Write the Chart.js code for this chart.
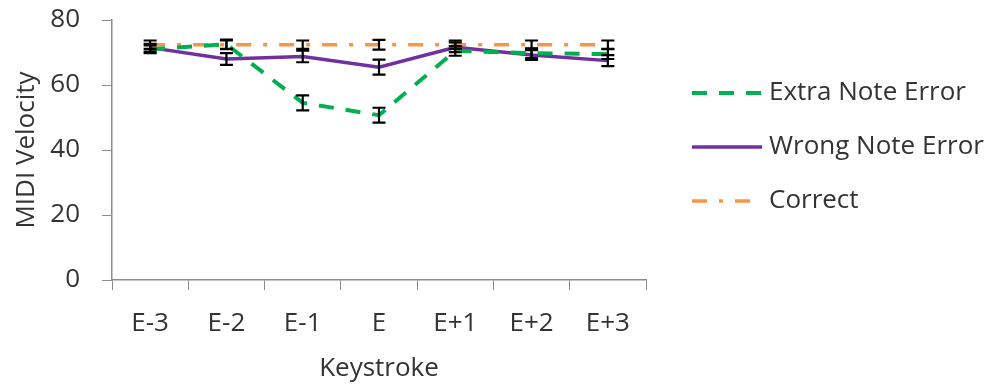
<!DOCTYPE html>
<html lang="en">
<head>
<meta charset="UTF-8">
<title>MIDI Velocity by Keystroke</title>
<script src="https://cdn.jsdelivr.net/npm/chart.js"></script>
<style>
  html, body { margin: 0; padding: 0; background: #fff; }
</style>
</head>
<body>
<canvas id="velocityChart" width="1004" height="387"></canvas>
<script>
// values
const keystrokes = ['E-3', 'E-2', 'E-1', 'E', 'E+1', 'E+2', 'E+3'];
const extraNote = [71, 72.5, 54.5, 50.7, 70.5, 69.8, 69.5];
const extraNoteErr = [1.2, 1.5, 2.3, 2.3, 1.5, 1.5, 1.5];
const wrongNote = [71.5, 68, 68.8, 65.5, 71.6, 69.2, 67.5];
const wrongNoteErr = [1.2, 1.8, 1.8, 2.3, 1.5, 1.5, 1.7];
const correct = [72.4, 72.4, 72.4, 72.4, 72.4, 72.4, 72.4];
const correctErr = [1.3, 1.3, 1.3, 1.5, 1.3, 1.3, 1.3];
const yTicks = [0, 20, 40, 60, 80];

const textColor = '#333333';
const axisColor = '#8c8c8c';

Chart.defaults.font.family = "'Open Sans', sans-serif";
Chart.defaults.font.size = 26;
Chart.defaults.color = textColor;

// error bars drawn through the chart's own scales
const errorBars = {
    id: 'errorBars',
    afterDatasetsDraw(chart) {
        const ctx = chart.ctx;
        const x = chart.scales.x;
        const y = chart.scales.y;
        ctx.save();
        ctx.strokeStyle = '#000';
        ctx.lineWidth = 2.2;
        chart.data.datasets.forEach(ds => {
            ds.data.forEach((v, i) => {
                const px = x.getPixelForValue(i);
                const top = y.getPixelForValue(v + ds.errors[i]);
                const bot = y.getPixelForValue(v - ds.errors[i]);
                ctx.beginPath();
                ctx.moveTo(px, top); ctx.lineTo(px, bot);
                ctx.moveTo(px - 6.5, top); ctx.lineTo(px + 6.5, top);
                ctx.moveTo(px - 6.5, bot); ctx.lineTo(px + 6.5, bot);
                ctx.stroke();
            });
        });
        ctx.restore();
    }
};

// legend on the right, drawn in the space kept free by layout padding
const sideLegend = {
    id: 'sideLegend',
    afterDraw(chart) {
        const ctx = chart.ctx;
        const x0 = chart.chartArea.right + 46;
        ctx.save();
        ctx.font = "26px 'Open Sans', sans-serif";
        ctx.textBaseline = 'middle';
        ctx.fillStyle = textColor;
        chart.data.datasets.forEach((ds, i) => {
            const y = 93 + i * 54;
            ctx.beginPath();
            ctx.strokeStyle = ds.borderColor;
            ctx.lineWidth = ds.borderWidth;
            ctx.setLineDash(ds.borderDash || []);
            ctx.moveTo(x0, y);
            ctx.lineTo(x0 + 70, y);
            ctx.stroke();
            ctx.fillText(ds.label, x0 + 77, y);
        });
        ctx.restore();
    }
};

new Chart(document.getElementById('velocityChart'), {
    type: 'line',
    data: {
        labels: keystrokes,
        datasets: [
            {
                label: 'Extra Note Error',
                data: extraNote,
                errors: extraNoteErr,
                borderColor: '#00b050',
                borderWidth: 4,
                borderDash: [15, 12],
                pointRadius: 0,
                tension: 0
            },
            {
                label: 'Wrong Note Error',
                data: wrongNote,
                errors: wrongNoteErr,
                borderColor: '#7030a0',
                borderWidth: 3.5,
                pointRadius: 0,
                tension: 0
            },
            {
                label: 'Correct',
                data: correct,
                errors: correctErr,
                borderColor: '#f79646',
                borderWidth: 3.5,
                borderDash: [15, 12, 4, 12],
                pointRadius: 0,
                tension: 0
            }
        ]
    },
    options: {
        responsive: false,
        animation: false,
        layout: { padding: { top: 20, right: 358, bottom: 3, left: 11 } },
        plugins: {
            tooltip: { enabled: false },
            legend: { display: false }
        },
        scales: {
            x: {
                offset: true,
                grid: {
                    display: true,
                    drawOnChartArea: false,
                    offset: true,
                    tickLength: 10,
                    color: axisColor
                },
                border: { color: axisColor, width: 1.5 },
                ticks: { padding: 18, maxRotation: 0 },
                title: { display: true, text: 'Keystroke', padding: 0 },
                afterFit(axis) { axis.height = 104; }
            },
            y: {
                min: 0,
                max: 80,
                afterBuildTicks(axis) { axis.ticks = yTicks.map(v => ({ value: v })); },
                grid: {
                    drawOnChartArea: false,
                    tickLength: 10,
                    color: axisColor
                },
                border: { color: axisColor, width: 1.5 },
                ticks: { padding: 22 },
                title: { display: true, text: 'MIDI Velocity', padding: 0 },
                afterFit(axis) {
                    axis.width = 101;
                    axis.paddingTop = 0;
                    axis.paddingBottom = 0;
                }
            }
        }
    },
    plugins: [errorBars, sideLegend]
});
</script>
</body>
</html>
